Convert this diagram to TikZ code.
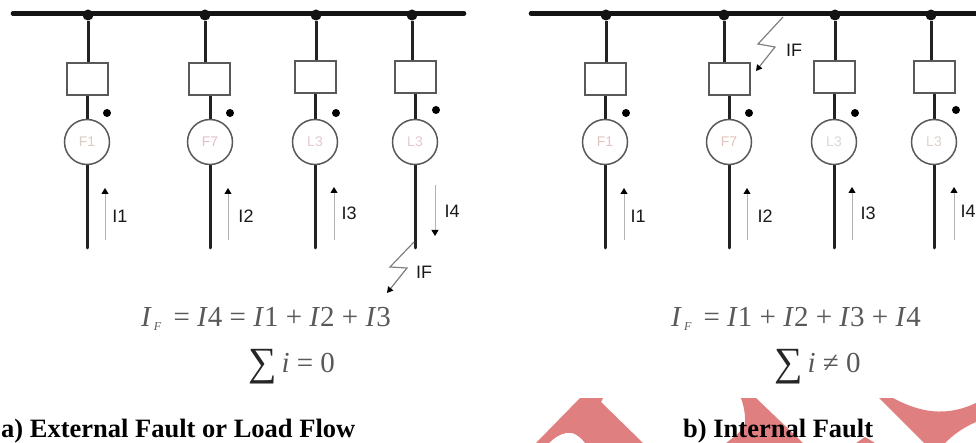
\documentclass[tikz,border=0pt]{standalone}
\usepackage{fontspec}
\setmainfont{Liberation Serif}
\newfontfamily\lblfont{Liberation Sans}
\usetikzlibrary{arrows.meta}
\definecolor{wm}{HTML}{DF7F7F}
\definecolor{ink}{HTML}{222222}
\tikzset{
  x=1pt,y=-1pt,
  busline/.style={line width=4.6pt,color=black!92,line cap=round},
  feeder/.style={line width=3pt,color=ink},
  junction/.style={circle,fill=black!92,inner sep=0pt,minimum size=11pt},
  breaker/.style={rectangle,draw=black!65,line width=2pt,fill=white,minimum width=41pt,minimum height=32pt,inner sep=0pt},
  machine/.style={circle,draw=black!65,line width=1.5pt,fill=white,minimum size=45pt,inner sep=0pt,font=\lblfont\fontsize{14}{14}\selectfont},
  polarity/.style={circle,fill=black,inner sep=0pt,minimum size=8pt},
  flow/.style={line width=1pt,color=black!30,-{Triangle[length=6pt,width=7pt,color=black]}},
  strike/.style={line width=1.2pt,color=black!50,line join=miter,-{Triangle[length=6pt,width=6.5pt,color=black]}},
  curlabel/.style={font=\lblfont\fontsize{18}{18}\selectfont,text=black!90,inner sep=0pt},
  equation/.style={font=\fontsize{29}{29}\selectfont,text=black!65,inner sep=0pt},
  caption/.style={font=\bfseries\fontsize{26.5}{28}\selectfont,text=black,inner sep=0pt}
}
\newcommand{\bigsig}{\raisebox{-3pt}{\fontsize{40}{40}\selectfont\color{black!85}∑}}
\newcommand{\subF}{\raisebox{-5pt}{\fontsize{12}{12}\selectfont\,\textit{F}}}
\begin{document}
\begin{tikzpicture}
\useasboundingbox (0,0) rectangle (976,443);
% watermark
\fill[wm] (536,443) -- (580,398) -- (603,398) -- (601,402) -- (643,443) -- (585,443)
  .. controls (580,436) and (572,431) .. (566,433) .. controls (560,434) and (554,438) .. (549,443) -- cycle;
\fill[wm] (741,398) -- (756,398) -- (803,443) -- (726,443)
  .. controls (738,434) and (746,428) .. (745,419) .. controls (745,411) and (743,404) .. (741,398) -- cycle;
\fill[wm] (856,443) -- (865,437) -- (875,443) -- cycle;
\fill[wm] (879,398) -- (893,398) .. controls (912,408) and (940,420) .. (976,403)
  -- (976,422) .. controls (962,428) and (952,436) .. (945,443) -- (924,443) -- cycle;
% left bus
\coordinate (busAw) at (13,13.5);
\coordinate (busAe) at (464,13.5);
\draw[busline] (busAw) -- (busAe);
% right bus
\coordinate (busBw) at (531,13.5);
\coordinate (busBe) at (980,13.5);
\draw[busline] (busBw) -- (busBe);
% feeders
\foreach \id/\jx/\bx/\by/\fx/\dx/\dy/\ax/\ya/\yb/\mt/\lx/\ly/\lb/\tc in {
  a1/88/87/79.5/87/107/113/105/240/188/F1/120/216/I1/D9CCC4,
  a2/205/209.5/79.5/210/230/113/228/240/188/F7/246/216/I2/E3BFC8,
  a3/316/315/77.5/315/336/113/334/240/187/L3/349/213/I3/E6C8D0,
  a4/412/415/77.5/415/436/110/435/185/236/L3/452/211/I4/E6C8D0,
  b1/606/605.5/79.5/605/626/113/624/240/188/F1/638/216/I1/E3C4C0,
  b2/724/729/79.5/729/749/113/747/240/188/F7/765/216/I2/E3C4BC,
  b3/835/834/77.5/834/855/113/852/240/187/L3/868/213/I3/DDD8D4,
  b4/931/934/77.5/934/956/110/954/240/187/L3/968/211/I4/DDD0CC} {
  \definecolor{mtc}{HTML}{\tc}
  \coordinate (end\id) at (\fx,248);
  \coordinate (mc\id) at (\fx,142);
  \draw[feeder] (mc\id) -- (mc\id |- 0,\by);
  \draw[feeder,line cap=round] (mc\id) -- (end\id);
  \node[junction] (j\id) at (\jx,15) {};
  \node[breaker] (cb\id) at (\bx,\by) {};
  \draw[feeder] (j\id) -- (j\id |- cb\id.north);
  \node[machine,text=mtc] (m\id) at (mc\id) {\mt};
  \node[polarity] (dot\id) at (\dx,\dy) {};
  \coordinate (tail\id) at (\ax,\ya);
  \coordinate (head\id) at (\ax,\yb);
  \draw[flow] (tail\id) -- (head\id);
  \node[curlabel] (lab\id) at (\lx,\ly) {\lb};
}
% fault strikes
\coordinate (fAa) at (414,242);
\coordinate (fAb) at (390,267);
\coordinate (fAc) at (407,268);
\coordinate (fAd) at (387,293);
\draw[strike] (fAa) -- (fAb) -- (fAc) -- (fAd);
\node[curlabel] (ifA) at (424,272) {IF};
\coordinate (fBa) at (783,17);
\coordinate (fBb) at (758,44);
\coordinate (fBc) at (775,47);
\coordinate (fBd) at (756,71);
\draw[strike] (fBa) -- (fBb) -- (fBc) -- (fBd);
\node[curlabel] (ifB) at (794,50) {IF};
% equations
\node[equation,anchor=base west] (eqA) at (141,326) {\textit{I}\subF\, = \textit{I}4 = \textit{I}1 + \textit{I}2 + \textit{I}3};
\node[equation,anchor=base west] (sumA) at (248,372) {\bigsig\,\textit{i} = 0};
\node[equation,anchor=base west] (eqB) at (671,326) {\textit{I}\subF\, = \textit{I}1 + \textit{I}2 + \textit{I}3 + \textit{I}4};
\node[equation,anchor=base west] (sumB) at (774,372) {\bigsig\,\textit{i} ≠ 0};
% captions
\node[caption,anchor=base west] (capA) at (1,437) {a) External Fault or Load Flow};
\node[caption,anchor=base west] (capB) at (683,437) {b) Internal Fault};
\end{tikzpicture}
\end{document}
